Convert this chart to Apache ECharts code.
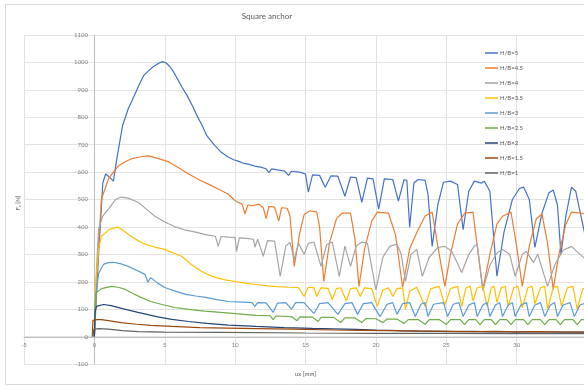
<!DOCTYPE html>
<html>
<head>
<meta charset="utf-8">
<script src="https://cdn.jsdelivr.net/npm/echarts@6/dist/echarts.min.js"></script>
<style>
  html, body { margin: 0; padding: 0; background: #fff; }
  #chart { width: 584px; height: 387px; }
</style>
</head>
<body>
<div id="chart"></div>
<script>
// 图例名称和颜色
var seriesNames = ['H/B=5', 'H/B=4.5', 'H/B=4', 'H/B=3.5', 'H/B=3', 'H/B=2.5', 'H/B=2', 'H/B=1.5', 'H/B=1'];
var seriesColors = ['#4472C4', '#ED7D31', '#A5A5A5', '#FFC000', '#5B9BD5', '#70AD47', '#264478', '#9E480E', '#636363'];

// [ux (mm), Fz (N)] 从图上读出来的
var hb5 = [[0,0],[0.3,300],[0.6,560],[0.8,593],[1.0,585],[1.35,567],[1.6,650],[2.0,769],[2.4,830],[2.8,875],[3.2,920],[3.5,952],[3.9,972],[4.2,985],[4.6,998],[4.85,1003],[5.1,998],[5.3,988],[5.6,968],[5.9,940],[6.2,912],[6.6,878],[7.0,838],[7.3,805],[7.7,765],[8.0,732],[8.5,700],[9.0,673],[9.5,655],[9.9,645],[10.2,640],[10.6,632],[11.0,628],[11.4,622],[11.8,618],[12.2,612],[12.4,598],[12.6,612],[13.0,608],[13.5,604],[13.8,588],[14.0,603],[14.6,600],[15.0,593],[15.2,527],[15.5,590],[16.0,588],[16.4,545],[16.8,586],[17.3,585],[17.8,512],[18.2,582],[18.6,580],[19.0,490],[19.4,578],[19.8,575],[20.2,465],[20.6,575],[21.2,573],[21.6,494],[22.0,572],[22.2,570],[22.4,399],[22.7,560],[23.0,573],[23.5,570],[23.7,520],[24.0,329],[24.4,480],[24.8,563],[25.3,567],[25.8,555],[26.2,390],[26.6,530],[27.0,567],[27.5,560],[27.7,567],[28.1,530],[28.6,220],[29.1,380],[29.7,500],[30.2,540],[30.5,545],[30.9,500],[31.3,325],[31.8,450],[32.3,525],[32.6,535],[32.9,480],[33.15,300],[33.5,440],[33.9,545],[34.2,530],[34.9,360],[35.4,430]];
var hb45 = [[0,0],[0.2,250],[0.5,501],[1.0,575],[1.35,600],[1.7,622],[2.2,638],[2.6,648],[3.2,655],[3.85,659],[4.5,650],[5.3,637],[6.0,615],[6.7,593],[7.5,570],[8.1,556],[8.8,538],[9.5,520],[9.9,500],[10.2,490],[10.5,483],[10.7,447],[10.9,480],[11.3,478],[11.7,483],[12.0,470],[12.2,430],[12.4,475],[12.8,472],[13.1,421],[13.3,470],[13.7,468],[13.9,440],[14.2,256],[14.6,380],[14.9,445],[15.3,458],[15.8,455],[16.0,400],[16.3,201],[16.7,340],[17.2,430],[17.6,450],[18.2,450],[18.5,360],[18.8,183],[19.2,320],[19.7,420],[20.1,454],[20.9,450],[21.4,370],[21.9,180],[22.4,320],[23.0,390],[23.5,440],[24.0,454],[24.4,330],[24.9,183],[25.3,300],[25.8,410],[26.3,450],[26.9,454],[27.2,330],[27.6,172],[28.1,300],[28.6,410],[29.0,439],[29.6,454],[30.0,330],[30.4,183],[30.9,330],[31.4,430],[31.8,447],[32.2,340],[32.6,172],[33.0,300],[33.5,410],[33.9,454],[34.6,450],[35.4,440]];
var hb4 = [[0,0],[0.15,250],[0.3,392],[0.6,440],[1.0,465],[1.5,500],[1.9,509],[2.4,505],[3.1,490],[3.7,465],[4.3,439],[5.0,418],[5.8,399],[6.5,388],[7.2,381],[7.9,372],[8.6,366],[8.8,329],[9.0,365],[9.5,363],[10.0,362],[10.1,311],[10.3,360],[10.8,358],[11.3,355],[11.4,326],[11.6,355],[12.0,293],[12.3,350],[12.8,348],[13.2,220],[13.6,330],[13.9,344],[14.2,282],[14.5,340],[14.9,300],[15.2,340],[15.6,345],[16.1,256],[16.5,335],[16.9,345],[17.4,220],[17.8,330],[18.2,256],[18.6,330],[19.0,345],[19.4,340],[20.0,170],[20.5,290],[21.0,330],[21.5,337],[21.8,300],[22.1,201],[22.5,300],[22.9,318],[23.3,220],[23.8,290],[24.4,325],[24.9,329],[25.4,310],[26.1,234],[26.6,300],[27.0,330],[27.2,337],[27.6,168],[28.1,260],[28.6,305],[29.0,318],[29.5,300],[29.9,220],[30.4,300],[30.7,310],[31.2,270],[31.5,300],[32.2,183],[32.7,260],[33.3,315],[33.9,329],[34.5,300],[35.4,260]];
var hb35 = [[0,0],[0.1,200],[0.3,320],[0.5,366],[1.1,392],[1.7,399],[2.1,385],[2.6,366],[3.1,350],[3.6,337],[4.3,326],[5.0,318],[5.6,305],[6.2,293],[6.9,262],[7.6,238],[8.1,225],[8.6,216],[9.3,207],[10.0,201],[10.7,195],[11.5,190],[12.3,185],[13.0,182],[13.8,180],[14.5,179],[14.9,146],[15.2,180],[15.6,178],[15.8,146],[16.1,178],[16.6,176],[16.9,135],[17.2,175],[17.5,178],[17.9,130],[18.2,175],[18.6,178],[18.9,146],[19.2,178],[19.7,175],[20.1,110],[20.5,170],[20.9,178],[21.2,146],[21.5,175],[21.9,178],[22.1,99],[22.4,165],[22.9,180],[23.5,110],[23.9,175],[24.5,183],[24.9,115],[25.3,175],[25.8,183],[26.1,110],[26.4,178],[26.7,183],[26.9,130],[27.2,178],[27.6,183],[27.9,110],[28.2,178],[28.4,183],[28.6,125],[28.9,178],[29.2,183],[29.4,110],[29.8,178],[30.1,183],[30.4,105],[30.8,178],[31.1,183],[31.3,120],[31.7,178],[32.0,183],[32.2,100],[32.6,178],[32.9,183],[33.2,110],[33.6,178],[34.0,183],[34.3,100],[34.7,175],[35.4,183]];
var hb3 = [[0,0],[0.1,150],[0.3,230],[0.65,264],[1.0,270],[1.35,271],[1.9,265],[2.4,256],[3.0,242],[3.6,227],[3.8,198],[4.0,215],[4.5,195],[5.0,179],[5.8,165],[6.5,154],[7.2,148],[7.9,143],[8.7,135],[9.5,128],[10.5,126],[11.2,124],[11.4,110],[11.6,124],[12.2,123],[12.7,88],[13.0,122],[13.6,124],[14.0,100],[14.3,124],[14.9,124],[15.6,84],[16.0,120],[16.6,124],[17.3,81],[17.8,120],[18.3,124],[18.7,81],[19.1,120],[19.7,124],[20.3,73],[20.8,118],[21.2,124],[21.5,81],[21.9,120],[22.4,124],[22.8,73],[23.2,118],[23.5,124],[23.7,73],[24.1,118],[24.8,124],[25.1,73],[25.5,118],[25.9,124],[26.2,73],[26.6,115],[27.0,124],[27.2,73],[27.6,115],[27.9,124],[28.1,73],[28.5,115],[28.8,124],[29.0,73],[29.4,115],[29.7,124],[29.9,73],[30.3,115],[30.7,124],[30.9,73],[31.3,115],[31.7,124],[32.0,73],[32.4,115],[32.7,124],[32.9,73],[33.3,115],[33.8,124],[34.1,73],[34.5,115],[35.0,124],[35.4,118]];
var hb25 = [[0,0],[0.05,120],[0.15,161],[0.5,175],[1.2,183],[1.7,180],[2.2,172],[2.7,158],[3.3,143],[4.0,128],[4.8,117],[5.7,106],[6.7,99],[7.8,93],[9.0,88],[10.0,84],[11.5,77],[12.5,76],[12.7,62],[12.9,75],[14.0,73],[14.4,58],[14.6,72],[15.5,71],[15.9,55],[16.1,70],[17.0,70],[17.5,51],[17.8,68],[18.5,68],[19.0,51],[19.3,66],[20.0,65],[20.5,51],[20.8,64],[21.5,64],[22.0,48],[22.3,62],[23.0,62],[23.5,45],[23.8,62],[24.5,62],[25.0,44],[25.3,62],[26.0,62],[26.3,44],[26.6,62],[27.1,62],[27.4,44],[27.7,62],[28.2,62],[28.5,44],[28.8,62],[29.3,62],[29.6,44],[29.9,62],[30.5,62],[30.8,44],[31.1,62],[31.7,62],[32.0,44],[32.3,62],[32.8,62],[33.1,44],[33.4,62],[34.0,62],[34.3,44],[34.6,62],[35.4,62]];
var hb2 = [[0,0],[0.05,90],[0.15,110],[0.65,117],[1.2,113],[2.0,102],[3.1,88],[4.5,72],[5.5,63],[6.7,55],[8.0,48],[9.5,42],[11.5,37],[13.5,33],[15.5,30],[17.0,28],[18.6,26],[20.0,24],[21.0,23],[22.0,21],[23.0,20],[24.5,19],[25.7,18],[27.0,19],[28.0,17],[29.0,18],[30.0,16],[31.0,18],[32.0,17],[33.5,16],[35.4,16]];
var hb15 = [[-0.15,0],[-0.1,59],[0.2,62],[0.5,62],[1.0,58],[1.9,51],[3.0,45],[4.0,41],[5.5,37],[7.5,33],[9.5,31],[11.5,29],[14.0,27],[17.0,24],[19.0,23],[20.9,22],[22.5,21],[24.0,20],[25.5,19],[27.0,18],[28.5,19],[30.0,17],[31.5,18],[33.0,17],[35.4,16]];
var hb1 = [[-0.1,0],[-0.05,26],[0.3,29],[1.0,27],[2.0,22],[3.1,18],[5.0,16],[9.0,15],[15.0,13],[20.0,12],[25.0,12],[30.0,11],[35.4,11]];

var allData = [hb5, hb45, hb4, hb35, hb3, hb25, hb2, hb15, hb1];

var labelFont = 'Lato, "Liberation Sans", sans-serif';
var chart = echarts.init(document.getElementById('chart'));

var series = [];
for (var i = 0; i < allData.length; i++) {
  series.push({
    name: seriesNames[i],
    type: 'line',
    symbol: 'none',
    color: seriesColors[i],
    lineStyle: { width: 1.2, color: seriesColors[i] },
    data: allData[i]
  });
}

function plain(v) { return String(v); }

var option = {
  animation: false,
  backgroundColor: '#fff',
  textStyle: { fontFamily: labelFont },
  grid: { left: 24, top: 35, width: 563, height: 329, outerBoundsMode: 'none', containLabel: false },
  legend: {
    orient: 'vertical',
    left: 480,
    top: 44,
    icon: 'rect',
    itemWidth: 13,
    itemHeight: 1.5,
    itemGap: 7,
    data: seriesNames,
    textStyle: { fontSize: 6, lineHeight: 8, color: '#595959', padding: [0, 0, 0, -3] }
  },
  xAxis: {
    type: 'value',
    min: -5,
    max: 35,
    interval: 5,
    name: 'ux [mm]',
    nameLocation: 'middle',
    nameGap: 34,
    nameTextStyle: { fontSize: 6, color: '#595959' },
    offset: -27,
    axisLine: { onZero: false, lineStyle: { color: '#bfbfbf' } },
    axisTick: { show: false },
    axisLabel: { fontSize: 6, color: '#7f7f7f', margin: 5, formatter: plain },
    splitLine: { lineStyle: { color: '#e3e3e3' } }
  },
  yAxis: {
    type: 'value',
    min: -100,
    max: 1100,
    interval: 100,
    offset: -70,
    axisLine: { show: true, onZero: false, lineStyle: { color: '#bfbfbf' } },
    axisTick: { show: false },
    axisLabel: { fontSize: 6, color: '#7f7f7f', margin: 6, formatter: plain },
    splitLine: { lineStyle: { color: '#e3e3e3' } }
  },
  graphic: [
    {
      type: 'rect', z: -1,
      shape: { x: 5.5, y: 4.5, width: 600, height: 380 },
      style: { fill: 'none', stroke: '#d9d9d9', lineWidth: 1 }
    },
    {
      type: 'text', x: 267, y: 16,
      style: { text: 'Square anchor', fontSize: 8, fill: '#595959', align: 'center', verticalAlign: 'middle', fontFamily: labelFont }
    },
    {
      type: 'text', x: 18, y: 203, rotation: Math.PI / 2,
      style: {
        text: 'F{s|z} [N]', fontSize: 6, fill: '#595959', align: 'center', verticalAlign: 'middle', fontFamily: labelFont,
        rich: { s: { fontSize: 4, fill: '#595959', verticalAlign: 'bottom', padding: [3, 0, 0, 0] } }
      }
    }
  ],
  series: series
};

chart.setOption(option);
</script>
</body>
</html>
